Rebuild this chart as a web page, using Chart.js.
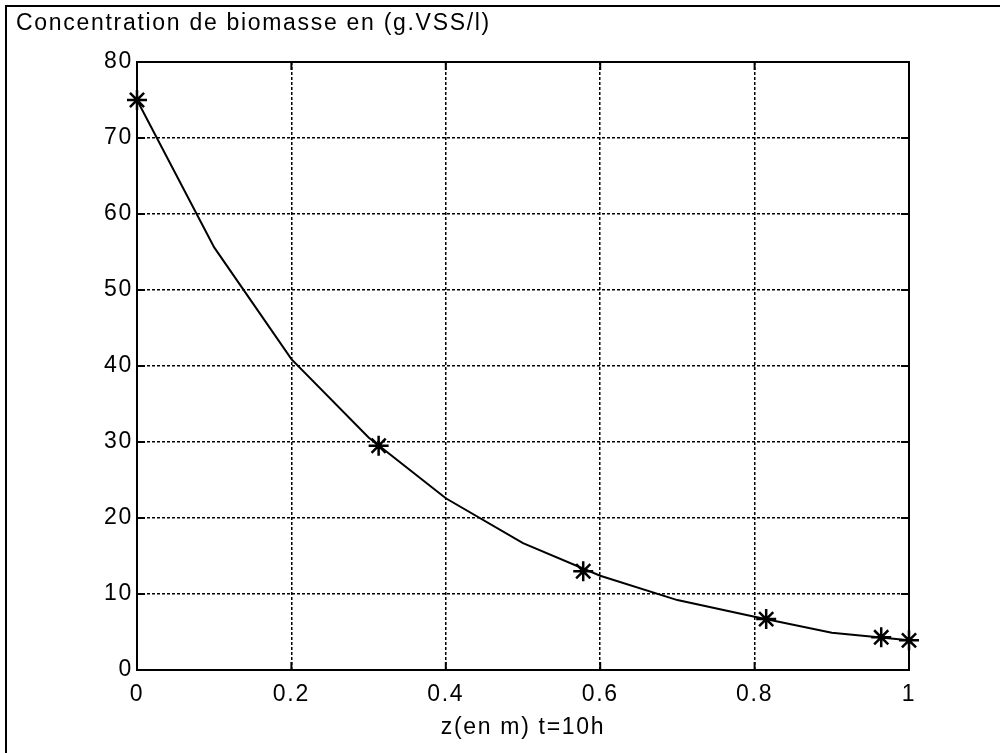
<!DOCTYPE html>
<html>
<head>
<meta charset="utf-8">
<script src="https://cdn.jsdelivr.net/npm/chart.js@4/dist/chart.umd.min.js"></script>
<style>
  html, body { margin: 0; padding: 0; background: #fff; }
  canvas { display: block; }
</style>
</head>
<body>
<canvas id="grafico" width="1000" height="753"></canvas>
<script>
// courbe calculée (pas de 0.1 m)
const zCourbe = [0, 0.1, 0.2, 0.3, 0.4, 0.5, 0.6, 0.7, 0.8, 0.9, 1.0];
const biomasseCourbe = [75, 55.6, 40.9, 30.6, 22.6, 16.7, 12.4, 9.2, 7.0, 4.9, 3.9];

// points marqués (*)
const zPoints = [0, 0.313, 0.578, 0.815, 0.964, 1.0];
const biomassePoints = [75, 29.5, 13.0, 6.7, 4.3, 3.9];

const ticksX = [0, 0.2, 0.4, 0.6, 0.8, 1];
const ticksY = [0, 10, 20, 30, 40, 50, 60, 70, 80];

const titreY = "Concentration de biomasse en (g.VSS/l)";
const titreX = "z(en m) t=10h";

const police = '"Liberation Sans", Arial, sans-serif';
const taille = 23;

// espacement des lettres un peu large, comme l'export matlab
const espacement = {
  id: 'espacement',
  beforeDraw(chart) {
    chart.ctx.letterSpacing = '1.7px';
  }
};

// cadre, boîte des axes, graduations internes et titre du haut
const cadreMatlab = {
  id: 'cadreMatlab',
  afterDraw(chart) {
    const { ctx, chartArea: a, scales } = chart;
    ctx.save();
    ctx.fillStyle = '#000';
    ctx.fillRect(5, 5, 995, 2);
    ctx.fillRect(5, 5, 2, 748);

    ctx.strokeStyle = '#000';
    ctx.lineWidth = 2;
    ctx.strokeRect(a.left, a.top, a.right - a.left, a.bottom - a.top);

    // graduations vers l'intérieur
    ctx.beginPath();
    ticksX.forEach(v => {
      const x = scales.x.getPixelForValue(v);
      ctx.moveTo(x, a.bottom); ctx.lineTo(x, a.bottom - 8);
      ctx.moveTo(x, a.top); ctx.lineTo(x, a.top + 8);
    });
    ticksY.forEach(v => {
      const y = scales.y.getPixelForValue(v);
      ctx.moveTo(a.left, y); ctx.lineTo(a.left + 8, y);
      ctx.moveTo(a.right, y); ctx.lineTo(a.right - 8, y);
    });
    ctx.stroke();

    ctx.font = taille + 'px ' + police;
    ctx.textAlign = 'left';
    ctx.textBaseline = 'alphabetic';
    ctx.fillText(titreY, 16, 30);
    ctx.restore();
  }
};

const ctx = document.getElementById('grafico').getContext('2d');

new Chart(ctx, {
  type: 'scatter',
  data: {
    datasets: [
      {
        data: zCourbe.map((z, i) => ({ x: z, y: biomasseCourbe[i] })),
        showLine: true,
        borderColor: '#000',
        borderWidth: 2,
        pointRadius: 0,
        tension: 0,
        clip: false
      },
      {
        data: zPoints.map((z, i) => ({ x: z, y: biomassePoints[i] })),
        showLine: false,
        pointStyle: 'star',
        pointRadius: 10,
        borderColor: '#000',
        backgroundColor: '#000',
        pointBorderWidth: 2.5,
        clip: false
      }
    ]
  },
  options: {
    responsive: false,
    animation: false,
    devicePixelRatio: 1,
    layout: { padding: { left: 0, right: 91, top: 62, bottom: 0 } },
    plugins: {
      legend: { display: false },
      tooltip: { enabled: false }
    },
    scales: {
      x: {
        type: 'linear',
        min: 0,
        max: 1,
        afterBuildTicks: s => { s.ticks = ticksX.map(v => ({ value: v })); },
        afterFit: s => { s.height = 83; },
        grid: { color: '#000', lineWidth: 1.5, drawTicks: false },
        border: { display: false, dash: [3, 2] },
        ticks: {
          color: '#000',
          padding: 11,
          maxRotation: 0,
          font: { family: police, size: taille },
          callback: v => String(v)
        },
        title: {
          display: true,
          text: titreX,
          color: '#000',
          font: { family: police, size: taille },
          padding: { top: 0, bottom: 12 }
        }
      },
      y: {
        type: 'linear',
        min: 0,
        max: 80,
        afterBuildTicks: s => { s.ticks = ticksY.map(v => ({ value: v })); },
        afterFit: s => { s.width = 137; },
        grid: { color: '#000', lineWidth: 1.5, drawTicks: false },
        border: { display: false, dash: [3, 2] },
        ticks: {
          color: '#000',
          padding: 4,
          font: { family: police, size: taille }
        }
      }
    }
  },
  plugins: [espacement, cadreMatlab]
});
</script>
</body>
</html>
